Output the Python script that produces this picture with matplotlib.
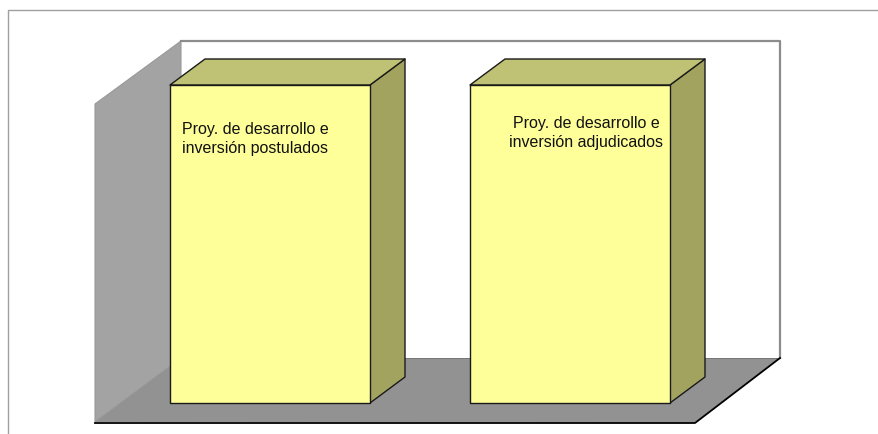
import matplotlib
matplotlib.use('Agg')
import matplotlib.pyplot as plt
from matplotlib.patches import Polygon

# chart data, both columns reach the same height
categories = [
    'Proy. de desarrollo e\ninversión postulados',
    'Proy. de desarrollo e\ninversión adjudicados',
]
values = [100, 100]
axis_max = 100

plt.rcParams['font.family'] = ['Liberation Sans', 'DejaVu Sans']


def val_to_y(v, base=403, top=85):
    # value axis to pixel row on the front plane of the columns
    return base - (base - top) * v / axis_max


def draw_box(ax, x0, x1, y0, y1, dx=35, dy=26):
    front = [(x0, y0), (x1, y0), (x1, y1), (x0, y1)]
    roof = [(x0, y1), (x1, y1), (x1 + dx, y1 - dy), (x0 + dx, y1 - dy)]
    side = [(x1, y0), (x1 + dx, y0 - dy), (x1 + dx, y1 - dy), (x1, y1)]
    ax.add_patch(Polygon(side, fc='#a3a360', ec='#1a1a1a', lw=1.0, zorder=3, joinstyle='round'))
    ax.add_patch(Polygon(roof, fc='#bfc174', ec='#1a1a1a', lw=1.0, zorder=3, joinstyle='round'))
    ax.add_patch(Polygon(front, fc='#ffff99', ec='#1a1a1a', lw=1.0, zorder=4, joinstyle='round'))


fig = plt.figure(figsize=(8.79, 4.34), dpi=100)
ax = fig.add_axes([0, 0, 1, 1])
ax.set_xlim(0, 879)
ax.set_ylim(434, 0)
ax.axis('off')

# outer frame, only top and left show
ax.plot([8, 8, 879], [434, 10, 10], color='#a0a0a0', lw=1.0, zorder=1)

# left wall and floor
ax.add_patch(Polygon([(95, 104), (181, 41), (181, 358), (95, 422)], fc='#a3a3a3', ec='#999999', lw=0.8, zorder=1))
ax.add_patch(Polygon([(95, 422), (181, 358), (780, 358), (695, 423)], fc='#929292', ec='none', zorder=2))
ax.plot([181, 780, 780], [41, 41, 358], color='#8c8c8c', lw=1.6, zorder=1)
ax.plot([181, 780], [358, 358], color='#777777', lw=0.7, zorder=2)
ax.plot([95, 695, 780], [423, 423, 358], color='#000000', lw=1.3, zorder=2)

# columns
bar_left = [170, 470]
bar_width = 200
label_xy = [(255.5, 139), (586.5, 133)]
for i, v in enumerate(values):
    draw_box(ax, bar_left[i], bar_left[i] + bar_width, val_to_y(0), val_to_y(v))
    x, y = label_xy[i]
    ax.text(x, y, categories[i], ha='center', va='center', fontsize=11.5,
            linespacing=1.35, color='#111111', zorder=5)

fig.savefig('out.png', dpi=100)
